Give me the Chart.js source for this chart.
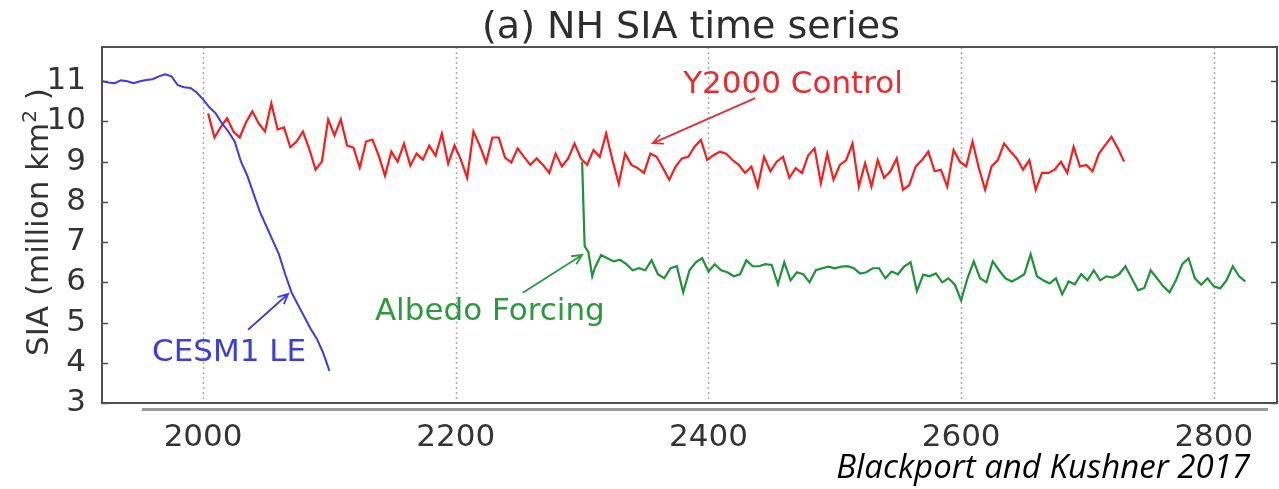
<!DOCTYPE html>
<html>
<head>
<meta charset="utf-8">
<script src="https://cdn.jsdelivr.net/npm/chart.js@4.4.1/dist/chart.umd.min.js"></script>
<style>
  html, body { margin: 0; padding: 0; background: #fff; }
  #wrap { position: relative; width: 1279px; height: 489px; }
</style>
</head>
<body>
<div id="wrap"><canvas id="chartSIA"></canvas></div>
<script>
// years on x, sea-ice area (million km^2) on y
const xTicks = [2000, 2200, 2400, 2600, 2800];
const yTicks = [3, 4, 5, 6, 7, 8, 9, 10, 11];
const step = 5;

// CESM1 large ensemble, 1920-2100
const cesmStart = 1920;
const cesmValues = [
  11.0, 10.97, 10.95, 11.02, 11.0, 10.95, 11.0, 11.03, 11.05, 11.12,
  11.17, 11.12, 10.9, 10.85, 10.83, 10.72, 10.55, 10.35, 10.2, 9.95,
  9.75, 9.5, 9.0, 8.65, 8.2, 7.75, 7.4, 7.05, 6.7, 6.2,
  5.75, 5.45, 5.15, 4.85, 4.6, 4.25, 3.8
];

// Y2000 control run, 2004-2729
const controlStart = 2004;
const controlValues = [
  10.2, 9.6, 9.86, 10.08, 9.75, 9.6, 9.98, 10.25, 9.95, 9.75,
  10.45, 9.8, 9.85, 9.36, 9.5, 9.75, 9.32, 8.8, 9.0, 10.05,
  9.65, 10.05, 9.4, 9.35, 8.85, 9.5, 9.55, 9.15, 8.65, 9.25,
  9.0, 9.45, 8.9, 9.2, 9.05, 9.4, 9.15, 9.7, 8.95, 9.4,
  9.05, 8.6, 9.75, 9.4, 8.98, 9.6, 9.6, 9.1, 8.98,
  9.33, 9.12, 8.92, 9.08, 8.92, 8.72, 9.2, 8.88, 9.08, 9.45,
  9.08, 8.92, 9.29, 9.12, 9.7, 9.04, 8.45, 9.2, 8.92, 8.84,
  8.72, 9.2, 9.12, 8.84, 8.55, 8.88, 9.08, 9.12, 9.37, 9.54,
  9.04, 9.16, 9.25, 9.2, 9.04, 8.92, 8.72, 8.88, 8.38, 9.12,
  8.76, 9.0, 9.12, 8.6, 8.84, 8.72, 9.16, 9.33,
  8.46, 9.2, 8.55, 8.92, 9.04, 9.45, 8.38, 8.96, 8.38, 9.04,
  8.6, 8.76, 9.08, 8.3, 8.42, 8.88, 9.04, 9.25, 8.76, 8.8,
  8.38, 9.29, 9.0, 8.88, 9.5, 8.84, 8.3, 8.88, 9.04, 9.45,
  9.25, 9.08, 8.8, 9.04, 8.3, 8.72, 8.72, 8.8, 9.0, 8.72,
  9.37, 8.88, 8.92, 8.76, 9.2, 9.41, 9.62, 9.33, 9.0
];

// albedo forcing run: sharp drop after branching, then 2310-2825
const albedoOnsetYears = [2300, 2302, 2305, 2308];
const albedoOnsetValues = [9.0, 6.9, 6.75, 6.15];
const albedoStart = 2310;
const albedoValues = [
  6.35, 6.68, 6.6, 6.52, 6.56, 6.45, 6.3, 6.35, 6.3, 6.55,
  6.2, 6.1, 6.35, 6.4, 5.75, 6.3, 6.5, 6.6, 6.27, 6.45,
  6.3, 6.25, 6.15, 6.2, 6.55, 6.4, 6.4, 6.45, 6.43, 5.95,
  6.5, 6.05, 6.25, 6.2, 6.0, 6.3, 6.35, 6.39, 6.35, 6.39,
  6.4, 6.35, 6.22, 6.25, 6.35, 6.35, 6.1, 6.27, 6.2, 6.4,
  6.5,
  5.78, 6.19, 6.15, 6.22, 6.0, 6.1, 5.94, 5.55, 6.1, 6.52,
  6.1, 6.0, 6.52, 6.3, 6.1, 6.02, 6.1, 6.2, 6.7, 6.15,
  6.05, 5.97, 6.1, 5.7, 6.02, 5.95, 6.2, 6.05, 6.3, 6.05,
  6.15, 6.12, 6.2, 6.4, 6.1, 5.8, 5.86, 6.3, 6.1, 5.9,
  5.75, 6.05, 6.45, 6.6, 6.1, 5.94, 6.1, 5.9, 5.85, 6.05,
  6.4, 6.15, 6.02
];

const blue = '#3a3aef', red = '#ff1a1a', green = '#1c9338';

function toPoints(start, values) {
  return values.map((v, i) => ({ x: start + i * step, y: v }));
}

const cesmData = toPoints(cesmStart, cesmValues);
const controlData = toPoints(controlStart, controlValues);
const albedoData = albedoOnsetYears.map((yr, i) => ({ x: yr, y: albedoOnsetValues[i] }))
  .concat(toPoints(albedoStart, albedoValues));

// text labels with arrows, anchored in data coordinates
const notes = [
  { text: 'Y2000 Control', color: '#ea2a2e', tx: 2380, ty: 10.70, from: [2437, 10.58], to: [2356, 9.46] },
  { text: 'Albedo Forcing', color: '#2a9a3c', tx: 2136, ty: 5.07, from: [2253, 5.74], to: [2300, 6.68] },
  { text: 'CESM1 LE', color: '#3c3ce6', tx: 1959.6, ty: 4.05, from: [2035.6, 4.82], to: [2067.3, 5.71] }
];

function drawArrow(ctx, x1, y1, x2, y2, color) {
  const ang = Math.atan2(y2 - y1, x2 - x1), h = 11;
  ctx.strokeStyle = color;
  ctx.lineWidth = 1.8;
  ctx.beginPath();
  ctx.moveTo(x1, y1);
  ctx.lineTo(x2, y2);
  ctx.moveTo(x2 - h * Math.cos(ang - 0.45), y2 - h * Math.sin(ang - 0.45));
  ctx.lineTo(x2, y2);
  ctx.lineTo(x2 - h * Math.cos(ang + 0.45), y2 - h * Math.sin(ang + 0.45));
  ctx.stroke();
}

const sketchPlugin = {
  id: 'sketch',
  beforeDatasetsDraw(chart) {
    const { ctx, chartArea: a, scales: { x } } = chart;
    ctx.save();
    ctx.strokeStyle = '#aaaaaa';
    ctx.lineWidth = 1.5;
    ctx.setLineDash([2, 3]);
    xTicks.forEach(v => {
      const px = Math.round(x.getPixelForValue(v)) + 0.5;
      ctx.beginPath();
      ctx.moveTo(px, a.top);
      ctx.lineTo(px, a.bottom);
      ctx.stroke();
    });
    ctx.restore();
  },
  afterDatasetsDraw(chart) {
    const { ctx, chartArea: a, scales: { x, y } } = chart;
    ctx.save();

    // frame and inward ticks
    ctx.strokeStyle = '#505050';
    ctx.lineWidth = 2;
    ctx.strokeRect(a.left, a.top, a.right - a.left, a.bottom - a.top);
    ctx.lineWidth = 1.5;
    yTicks.forEach(v => {
      const py = Math.round(y.getPixelForValue(v)) + 0.5;
      ctx.beginPath();
      ctx.moveTo(a.left, py); ctx.lineTo(a.left + 6, py);
      ctx.moveTo(a.right, py); ctx.lineTo(a.right - 6, py);
      ctx.stroke();
    });

    // second grey rule under the axis
    ctx.strokeStyle = '#9a9a9a';
    ctx.lineWidth = 3;
    ctx.beginPath();
    ctx.moveTo(142, a.bottom + 6.5);
    ctx.lineTo(1268, a.bottom + 6.5);
    ctx.stroke();

    // annotations
    ctx.font = '31px "DejaVu Sans"';
    ctx.textAlign = 'left';
    ctx.textBaseline = 'alphabetic';
    notes.forEach(n => {
      ctx.fillStyle = n.color;
      ctx.fillText(n.text, x.getPixelForValue(n.tx), y.getPixelForValue(n.ty));
      drawArrow(ctx, x.getPixelForValue(n.from[0]), y.getPixelForValue(n.from[1]),
        x.getPixelForValue(n.to[0]), y.getPixelForValue(n.to[1]), n.color);
    });

    // title
    ctx.fillStyle = '#2e2e2e';
    ctx.font = '38px "DejaVu Sans"';
    ctx.textAlign = 'center';
    ctx.fillText('(a) NH SIA time series', 691, 38);

    // y axis title with superscript
    ctx.save();
    ctx.translate(48, 222);
    ctx.rotate(-Math.PI / 2);
    ctx.fillStyle = '#333';
    const big = '31px "DejaVu Sans"', small = '20px "DejaVu Sans"';
    ctx.font = big;
    const w1 = ctx.measureText('SIA (million km').width;
    const w3 = ctx.measureText(' )').width;
    ctx.font = small;
    const w2 = ctx.measureText('2').width;
    let sx = -(w1 + w2 + w3) / 2;
    ctx.textAlign = 'left';
    ctx.font = big;
    ctx.fillText('SIA (million km', sx, 0);
    sx += w1;
    ctx.font = small;
    ctx.fillText('2', sx, -12);
    sx += w2;
    ctx.font = big;
    ctx.fillText(' )', sx, 0);
    ctx.restore();

    // citation
    ctx.fillStyle = '#000';
    ctx.font = 'italic 33px "Open Sans"';
    ctx.textAlign = 'right';
    ctx.fillText('Blackport and Kushner 2017', 1250, 478);

    ctx.restore();
  }
};

new Chart(document.getElementById('chartSIA').getContext('2d'), {
  type: 'line',
  data: {
    datasets: [
      { label: 'CESM1 LE', data: cesmData, borderColor: blue, borderWidth: 2 },
      { label: 'Albedo Forcing', data: albedoData, borderColor: green, borderWidth: 2.2 },
      { label: 'Y2000 Control', data: controlData, borderColor: red, borderWidth: 2.2 }
    ]
  },
  options: {
    animation: false,
    responsive: true,
    maintainAspectRatio: false,
    devicePixelRatio: 1,
    layout: { padding: { left: 0, right: 2, top: 47, bottom: 0 } },
    elements: { point: { radius: 0 }, line: { tension: 0, fill: false } },
    plugins: { legend: { display: false }, tooltip: { enabled: false } },
    scales: {
      x: {
        type: 'linear',
        min: 1920,
        max: 2850,
        grid: { display: false },
        border: { display: false },
        afterBuildTicks: s => { s.ticks = xTicks.map(v => ({ value: v })); },
        afterFit: s => { s.height = 86; },
        ticks: {
          padding: 8,
          color: '#333',
          font: { family: 'DejaVu Sans', size: 31 },
          callback: v => String(v)
        }
      },
      y: {
        min: 3,
        max: 11.85,
        grid: { display: false },
        border: { display: false },
        afterBuildTicks: s => { s.ticks = yTicks.map(v => ({ value: v })); },
        afterFit: s => { s.width = 102; },
        ticks: {
          padding: 8,
          color: '#333',
          font: { family: 'DejaVu Sans', size: 31 },
          callback: v => String(v)
        }
      }
    }
  },
  plugins: [sketchPlugin]
});
</script>
</body>
</html>
